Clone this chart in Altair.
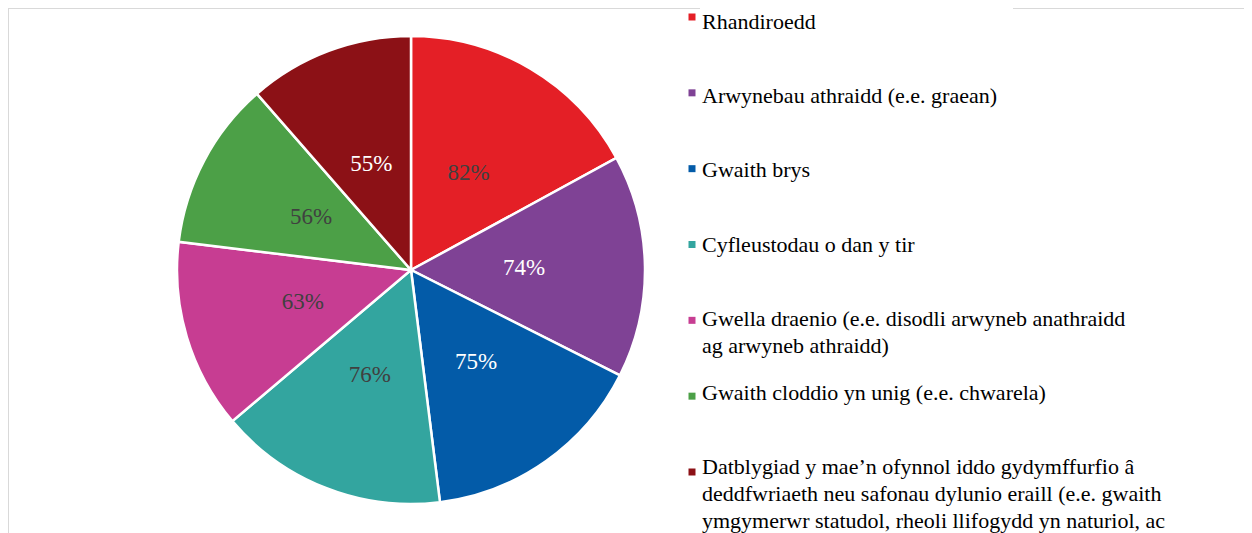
import altair as alt
import pandas as pd

categories = [
    "Rhandiroedd",
    "Arwynebau athraidd (e.e. graean)",
    "Gwaith brys",
    "Cyfleustodau o dan y tir",
    "Gwella draenio",
    "Gwaith cloddio yn unig",
    "Datblygiad",
]
legend_texts = [
    "Rhandiroedd",
    "Arwynebau athraidd (e.e. graean)",
    "Gwaith brys",
    "Cyfleustodau o dan y tir",
    "Gwella draenio (e.e. disodli arwyneb anathraidd\nag arwyneb athraidd)",
    "Gwaith cloddio yn unig (e.e. chwarela)",
    "Datblygiad y mae\u2019n ofynnol iddo gydymffurfio \u00e2\n"
    "deddfwriaeth neu safonau dylunio eraill (e.e. gwaith\n"
    "ymgymerwr statudol, rheoli llifogydd yn naturiol, ac",
]
values = [82, 74, 75, 76, 63, 56, 55]
colors = ["#E41F26", "#7F4295", "#035BA8", "#33A59F", "#C73D92", "#4CA047", "#8C1116"]
label_colors = ["#404040", "#FFFFFF", "#FFFFFF", "#404040", "#404040", "#404040", "#FFFFFF"]

df = pd.DataFrame({
    "cat": categories,
    "legend": legend_texts,
    "value": values,
    "idx": list(range(len(values))),
    "pct": [f"{v}%" for v in values],
    "lblcol": label_colors,
})

W, H = 1236, 525
CX, CY = 403, 262
FONT = "Liberation Serif"

color_scale = alt.Scale(domain=categories, range=colors)
sym_pos = alt.Scale(type="point", domain=categories, range=[9, 464], padding=0)
txt_pos = alt.Scale(type="point", domain=categories, range=[13, 458], padding=0)

base = alt.Chart(df)

pie = base.mark_arc(outerRadius=234, stroke="white", strokeWidth=2.5).encode(
    theta=alt.Theta("value:Q", stack=True),
    color=alt.Color("cat:N", scale=color_scale, legend=None),
    order=alt.Order("idx:Q"),
    x=alt.value(CX),
    y=alt.value(CY),
)

labels = base.mark_text(radius=113, font=FONT, fontSize=23).encode(
    theta=alt.Theta("value:Q", stack=True),
    order=alt.Order("idx:Q"),
    text="pct:N",
    color=alt.Color("lblcol:N", scale=None),
    x=alt.value(CX),
    y=alt.value(CY),
)

symbols = base.mark_square(size=49, opacity=1).encode(
    x=alt.value(684),
    y=alt.Y("cat:N", scale=sym_pos, axis=None),
    color=alt.Color("cat:N", scale=color_scale, legend=None),
)

legend_txt = base.mark_text(
    align="left", baseline="top", dy=-9, font=FONT, fontSize=22,
    lineHeight=27, lineBreak="\n", color="#000000",
).encode(
    x=alt.value(694),
    y=alt.Y("cat:N", scale=txt_pos, axis=None),
    text="legend:N",
)

one = alt.Chart(pd.DataFrame({"a": [0]}))
frame_color = "#D9D9D9"
top1 = one.mark_rule(color=frame_color, strokeWidth=2).encode(
    x=alt.value(0), x2=alt.value(692), y=alt.value(0))
top2 = one.mark_rule(color=frame_color, strokeWidth=2).encode(
    x=alt.value(1005), x2=alt.value(W), y=alt.value(0))
left = one.mark_rule(color=frame_color, strokeWidth=2).encode(
    x=alt.value(0), y=alt.value(0), y2=alt.value(H))

chart = alt.layer(top1, top2, left, pie, labels, symbols, legend_txt).resolve_scale(
    y="independent"
).properties(
    width=W, height=H, padding=0, autosize=alt.AutoSizeParams(type="none"),
).configure_view(stroke=None)

chart.save("out.html", embed_options={"renderer": "svg", "actions": False})
